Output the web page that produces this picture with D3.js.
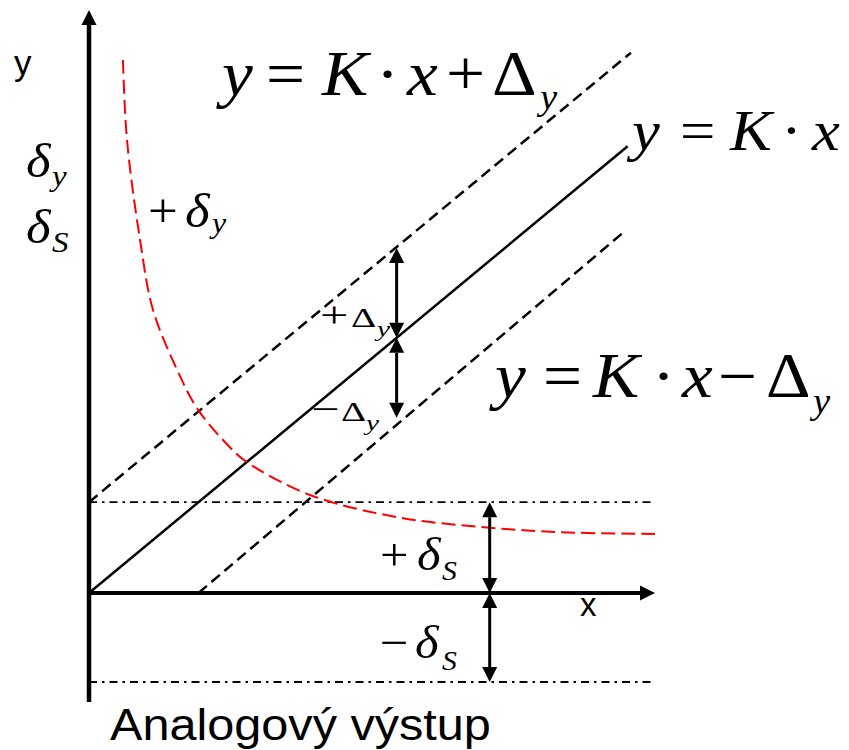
<!DOCTYPE html>
<html>
<head>
<meta charset="utf-8">
<script src="https://cdn.jsdelivr.net/npm/d3@7"></script>
<style>
  body { margin: 0; background: #fff; }
</style>
</head>
<body>
<div id="chartDiv"></div>
<script>
// line data, in chart units (x: input, y: output)
var idealLine = [{x: 0, y: 0}, {x: 4.92, y: 4.92}];            // y = K*x
var upperLine = [{x: 0, y: 1}, {x: 4.95, y: 5.95}];            // y = K*x + Dy
var lowerLine = [{x: 1, y: 0}, {x: 4.87, y: 3.96}];            // y = K*x - Dy
var bandLevels = [1, -0.98];                                   // +dS, -dS

// relative error curve (+delta_y)
var relErrX = [0.31, 0.347, 0.466, 0.584, 0.804, 0.995, 1.315, 1.443, 2.018, 2.84, 3.66, 4.30, 5.17];
var relErrY = [5.87, 4.99, 3.89, 3.12, 2.46, 2.02, 1.57, 1.44, 1.08, 0.83, 0.72, 0.67, 0.65];

// double arrows
var deltaArrows = [{x: 2.81, from: 2.81, to: 3.80}, {x: 2.81, from: 2.81, to: 1.93}];
var sensArrows  = [{x: 3.66, from: 0, to: 1}, {x: 3.66, from: 0, to: -0.98}];

var xDomain = [0, 5.17],
    yDomain = [-1.2, 6.42];

var outerWidth = 849, outerHeight = 750;
var serif = "'Liberation Serif', 'Times New Roman', serif",
    sans  = "'Liberation Sans', Arial, sans-serif";

var svg = d3.select("#chartDiv")
    .append("svg")
    .attr("width", outerWidth)
    .attr("height", outerHeight)
    .style("display", "block")
    .style("background", "#fff");

var x = d3.scaleLinear().domain(xDomain).range([89, 655]);
var y = d3.scaleLinear().domain(yDomain).range([702, 10]);

var line = d3.line()
    .x(function(d) { return x(d.x); })
    .y(function(d) { return y(d.y); });

// dash-dot band lines
svg.selectAll(".band")
    .data(bandLevels)
    .enter().append("line")
    .attr("class", "band")
    .attr("x1", x(0)).attr("x2", x(xDomain[1]))
    .attr("y1", function(d) { return y(d); })
    .attr("y2", function(d) { return y(d); })
    .style("stroke", "#000")
    .style("stroke-width", 1.8)
    .style("stroke-dasharray", "8,5,2.5,5");

// tolerance lines
[upperLine, lowerLine].forEach(function(l) {
    svg.append("path")
        .attr("d", line(l))
        .style("fill", "none")
        .style("stroke", "#000")
        .style("stroke-width", 2.5)
        .style("stroke-dasharray", "11,6");
});

svg.append("path")
    .attr("d", line(idealLine))
    .style("fill", "none")
    .style("stroke", "#000")
    .style("stroke-width", 2.5);

// red curve
var relErr = relErrX.map(function(v, i) { return {x: v, y: relErrY[i]}; });
var curveLine = d3.line()
    .x(function(d) { return x(d.x); })
    .y(function(d) { return y(d.y); })
    .curve(d3.curveCatmullRom.alpha(0.5));
svg.append("path")
    .attr("d", curveLine(relErr))
    .style("fill", "none")
    .style("stroke", "#ff0000")
    .style("stroke-width", 2)
    .style("stroke-dasharray", "14,6");

// axes
var head = 15, half = 7.5;
svg.append("line")
    .attr("x1", x(0)).attr("x2", x(0))
    .attr("y1", y(yDomain[0])).attr("y2", y(yDomain[1]) + head)
    .style("stroke", "#000").style("stroke-width", 4.5);
svg.append("path")
    .attr("d", "M" + x(0) + "," + y(yDomain[1]) + "L" + (x(0) - half) + "," + (y(yDomain[1]) + head) +
               "L" + (x(0) + half) + "," + (y(yDomain[1]) + head) + "Z")
    .style("fill", "#000");
svg.append("line")
    .attr("x1", x(0)).attr("x2", x(xDomain[1]) - head)
    .attr("y1", y(0)).attr("y2", y(0))
    .style("stroke", "#000").style("stroke-width", 4);
svg.append("path")
    .attr("d", "M" + x(xDomain[1]) + "," + y(0) + "L" + (x(xDomain[1]) - head) + "," + (y(0) - half) +
               "L" + (x(xDomain[1]) - head) + "," + (y(0) + half) + "Z")
    .style("fill", "#000");

// double arrows
function arrow(d) {
    var x0 = x(d.x), y0 = y(d.from), y1 = y(d.to);
    var dir = y1 < y0 ? 1 : -1;
    svg.append("line")
        .attr("x1", x0).attr("x2", x0)
        .attr("y1", y0 - dir * head).attr("y2", y1 + dir * head)
        .style("stroke", "#000").style("stroke-width", 3);
    [[y0, -dir], [y1, dir]].forEach(function(p) {
        var tip = p[0], s = p[1];
        svg.append("path")
            .attr("d", "M" + x0 + "," + tip + "L" + (x0 - half) + "," + (tip + s * head) +
                       "L" + (x0 + half) + "," + (tip + s * head) + "Z")
            .style("fill", "#000");
    });
}
deltaArrows.forEach(arrow);
sensArrows.forEach(arrow);

// math labels: tokens placed relative to a base point
function mathLabel(x0, y0, sx, tokens) {
    var g = svg.append("g").attr("transform", "translate(" + x0 + "," + y0 + ")");
    tokens.forEach(function(t) {
        g.append("text")
            .attr("transform", "translate(" + t[1] + "," + (t[4] || 0) + ") scale(" + sx + ",1)")
            .style("font-family", serif)
            .style("font-style", t[2] ? "italic" : "normal")
            .style("font-size", t[3] + "px")
            .text(t[0]);
    });
}

mathLabel(220, 95, 1.1, [["y", 2, 1, 63], ["=", 46, 0, 63], ["K", 102, 1, 63], ["\u00b7", 156, 0, 63],
    ["x", 187, 1, 63], ["+", 226, 0, 63], ["\u0394", 272, 0, 63], ["y", 320, 1, 35, 14]]);
mathLabel(630, 150, 1.1, [["y", 2, 1, 57], ["=", 50, 0, 57], ["K", 100, 1, 57], ["\u00b7", 151, 0, 57],
    ["x", 182, 1, 57]]);
mathLabel(493, 397, 1.1, [["y", 2, 1, 63], ["=", 50, 0, 63], ["K", 100, 1, 63], ["\u00b7", 159, 0, 63],
    ["x", 189, 1, 63], ["\u2212", 225, 0, 63], ["\u0394", 273, 0, 63], ["y", 320, 1, 35, 16]]);

mathLabel(26, 177, 1.1, [["\u03b4", 0, 1, 48], ["y", 26, 1, 30, 9]]);
mathLabel(26, 243, 1.1, [["\u03b4", 0, 1, 48], ["S", 26, 1, 30, 9]]);
mathLabel(148, 227, 1.1, [["+", 0, 0, 48], ["\u03b4", 37, 1, 48], ["y", 64, 1, 29, 6]]);

mathLabel(320, 327, 1.4, [["+", 0, 0, 36], ["\u0394", 31, 0, 28], ["y", 57, 1, 21, 9]]);
mathLabel(311, 421, 1.4, [["\u2212", 0, 0, 36], ["\u0394", 30, 0, 28], ["y", 55, 1, 21, 9]]);

mathLabel(380, 570, 1.1, [["+", 0, 0, 46], ["\u03b4", 37, 1, 46], ["S", 62, 1, 27, 10]]);
mathLabel(380, 658, 1.1, [["\u2212", 0, 0, 46], ["\u03b4", 35, 1, 46], ["S", 62, 1, 27, 12]]);

// axis names
svg.append("text")
    .attr("x", 14).attr("y", 75)
    .style("font-family", sans).style("font-size", "35px")
    .text("y");
svg.append("text")
    .attr("x", 580).attr("y", 616)
    .style("font-family", sans).style("font-size", "33px")
    .text("x");
svg.append("text")
    .attr("transform", "translate(110,740) scale(1.08,1)")
    .style("font-family", sans).style("font-size", "45px")
    .text("Analogový výstup");
</script>
</body>
</html>
